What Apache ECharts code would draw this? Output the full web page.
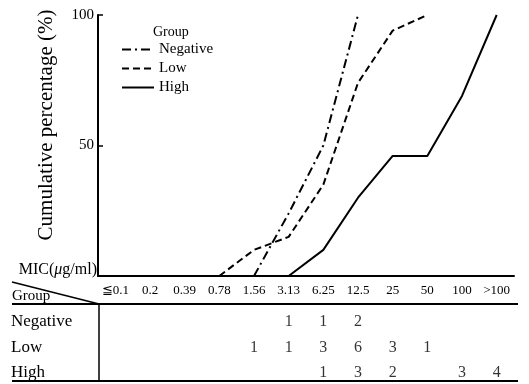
<!DOCTYPE html>
<html>
<head>
<meta charset="utf-8">
<script src="https://cdn.jsdelivr.net/npm/echarts@6/dist/echarts.min.js"></script>
<style>
html,body{margin:0;padding:0;background:#fff;}
#chart{width:529px;height:384px;}
</style>
</head>
<body>
<div id="chart"></div>
<script>
// MIC categories (μg/ml)
var micLabels = ['≦0.1', '0.2', '0.39', '0.78', '1.56', '3.13', '6.25', '12.5', '25', '50', '100', '>100'];
var groups = ['High', 'Low', 'Negative'];

// cumulative percentage
var negativePct = [null, null, null, null, 0, 24, 50, 100, null, null, null, null];
var lowPct = [null, null, null, 0, 10, 15, 35, 74, 94, 100, null, null];
var highPct = [null, null, null, null, null, 0, 10, 30, 46, 46, 69, 100];

// number of strains per MIC (table under the chart)
var negativeCount = [null, null, null, null, null, 1, 1, 2, null, null, null, null];
var lowCount = [null, null, null, null, 1, 1, 3, 6, 3, 1, null, null];
var highCount = [null, null, null, null, null, null, 1, 3, 2, null, 3, 4];

var serif = '"Liberation Serif", "DejaVu Serif", serif';

function countPoints(arr, row){
    var pts = [];
    arr.forEach(function(v, i){
        if(v != null) pts.push([i, row, v]);
    });
    return pts;
}

var chart = echarts.init(document.getElementById('chart'));
var option = {
    animation: false,
    textStyle: {fontFamily: serif, color: '#000'},
    title: {
        text: 'Group',
        left: 148, top: 20,
        textStyle: {fontFamily: serif, fontSize: 14, fontWeight: 'normal', color: '#000'}
    },
    legend: {
        left: 116, top: 37,
        orient: 'vertical',
        itemWidth: 32, itemHeight: 10, itemGap: 4,
        data: ['Negative', 'Low', 'High'],
        itemStyle: {opacity: 0},
        textStyle: {fontFamily: serif, fontSize: 15, color: '#000'}
    },
    grid: [
        {left: 98, width: 416, top: 15, height: 261},
        {left: 98, width: 416, top: 322, height: 51}
    ],
    xAxis: [{
        gridIndex: 0,
        type: 'category',
        data: micLabels,
        name: 'MIC({i|μ}g/ml)',
        nameLocation: 'start',
        nameGap: 1,
        nameTextStyle: {
            fontFamily: serif, fontSize: 16, color: '#000', verticalAlign: 'bottom', padding: [0, 0, -2, 0],
            rich: {i: {fontFamily: serif, fontSize: 16, fontStyle: 'italic', color: '#000'}}
        },
        axisLine: {lineStyle: {color: '#000', width: 2}},
        axisTick: {inside: true, alignWithLabel: true, length: 5, lineStyle: {color: '#000', width: 1.5}},
        axisLabel: {fontFamily: serif, fontSize: 13, color: '#000', margin: 8, interval: 0},
        splitLine: {show: false}
    }, {
        gridIndex: 1,
        type: 'category',
        data: micLabels,
        show: false
    }],
    yAxis: [{
        gridIndex: 0,
        type: 'value',
        min: 0, max: 100, interval: 50,
        axisLine: {show: true, lineStyle: {color: '#000', width: 2}},
        axisTick: {show: true, inside: true, length: 5, lineStyle: {color: '#000', width: 1.5}},
        axisLabel: {
            fontFamily: serif, fontSize: 15, color: '#000', margin: 4,
            formatter: function(v){ return v === 0 ? '' : v; }
        },
        splitLine: {show: false}
    }, {
        gridIndex: 1,
        type: 'category',
        data: groups,
        boundaryGap: false,
        axisLine: {show: false},
        axisTick: {show: false},
        axisLabel: {fontFamily: serif, fontSize: 17, color: '#000', align: 'left', margin: 87}
    }],
    series: [{
        name: 'Negative',
        type: 'line',
        data: negativePct,
        symbol: 'none',
        lineStyle: {color: '#000', width: 2, type: [9, 4, 2, 4]},
        itemStyle: {color: '#000'}
    }, {
        name: 'Low',
        type: 'line',
        data: lowPct,
        symbol: 'none',
        lineStyle: {color: '#000', width: 2, type: [7, 4]},
        itemStyle: {color: '#000'}
    }, {
        name: 'High',
        type: 'line',
        data: highPct,
        symbol: 'none',
        lineStyle: {color: '#000', width: 2},
        itemStyle: {color: '#000'}
    }, {
        name: 'counts',
        type: 'scatter',
        xAxisIndex: 1, yAxisIndex: 1,
        symbolSize: 1,
        itemStyle: {color: 'rgba(0,0,0,0)'},
        label: {
            show: true, position: 'inside',
            fontFamily: serif, fontSize: 16, color: '#000',
            formatter: function(p){ return p.value[2]; }
        },
        data: countPoints(negativeCount, 'Negative')
            .concat(countPoints(lowCount, 'Low'))
            .concat(countPoints(highCount, 'High'))
    }],
    graphic: [
        {type: 'text', x: 46, y: 125, rotation: Math.PI / 2,
            style: {text: 'Cumulative percentage (%)', font: '21px ' + serif, fill: '#000', align: 'center', verticalAlign: 'middle'}},
        {type: 'line', shape: {x1: 12, y1: 304, x2: 518, y2: 304}, style: {stroke: '#000', lineWidth: 2}},
        {type: 'line', shape: {x1: 12, y1: 381, x2: 518, y2: 381}, style: {stroke: '#000', lineWidth: 2}},
        {type: 'line', shape: {x1: 99, y1: 304, x2: 99, y2: 381}, style: {stroke: '#000', lineWidth: 1.5}},
        {type: 'line', shape: {x1: 12, y1: 282, x2: 99, y2: 304}, style: {stroke: '#000', lineWidth: 1.5}},
        {type: 'text', left: 12, top: 289, style: {text: 'Group', font: '15px ' + serif, fill: '#000'}}
    ]
};
chart.setOption(option);
</script>
</body>
</html>
